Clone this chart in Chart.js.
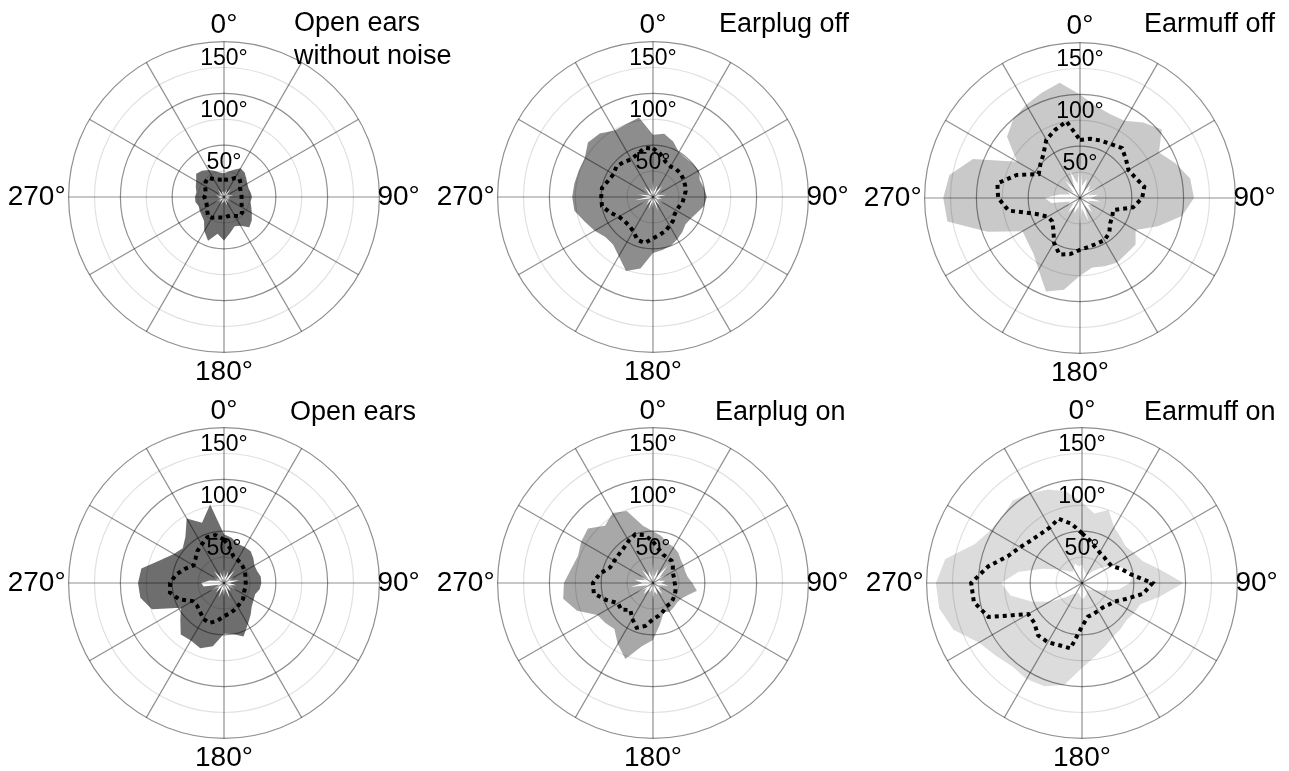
<!DOCTYPE html>
<html>
<head>
<meta charset="utf-8">
<script src="https://cdn.jsdelivr.net/npm/chart.js@4.4.1/dist/chart.umd.min.js"></script>
<style>
  html, body { margin: 0; padding: 0; background: #fff; }
  body { width: 1289px; height: 771px; overflow: hidden; position: relative;
         font-family: "Liberation Sans", Arial, sans-serif; }
  canvas { position: absolute; }
  .title { position: absolute; font-size: 27px; line-height: 32.6px; color: #000; white-space: nowrap; }
</style>
</head>
<body>
<canvas id="p1" width="520" height="384" style="left:-36px;top:7px"></canvas>
<canvas id="p2" width="520" height="384" style="left:393px;top:7px"></canvas>
<canvas id="p3" width="520" height="384" style="left:820px;top:8px"></canvas>
<canvas id="p4" width="520" height="384" style="left:-36px;top:393px"></canvas>
<canvas id="p5" width="520" height="384" style="left:393px;top:393px"></canvas>
<canvas id="p6" width="520" height="384" style="left:822px;top:393px"></canvas>

<div class="title" style="left:294px;top:6px">Open ears<br>without noise</div>
<div class="title" style="left:719px;top:7px">Earplug off</div>
<div class="title" style="left:1144px;top:7px">Earmuff off</div>
<div class="title" style="left:290px;top:395px">Open ears</div>
<div class="title" style="left:715px;top:395px">Earplug on</div>
<div class="title" style="left:1144px;top:395px">Earmuff on</div>

<script>
// Direction of sound source (degrees, clockwise from front)
const angles = [0, 10, 20, 30, 40, 50, 60, 70, 80, 90, 100, 110,
                120, 130, 140, 150, 160, 170, 180, 190, 200, 210, 220, 230,
                240, 250, 260, 270, 280, 290, 300, 310, 320, 330, 340, 350];
const cardinalLabels = [0, 90, 180, 270];
const ringLabels = [50, 100, 150];

// Open ears without noise
const maxOpenQuiet  = [23, 25, 28, 32, 31, 28, 26, 25, 26, 27, 26, 28, 31, 35, 38, 32, 30, 35,
                       42, 36, 45, 38, 30, 28, 27, 26, 28, 28, 27, 29, 31, 35, 33, 30, 27, 24];
const minOpenQuiet  = [6, 3, 8, 4, 10, 3, 7, 4, 9, 3, 6, 4, 8, 3, 7, 4, 9, 3,
                       6, 4, 8, 3, 7, 4, 10, 3, 6, 4, 8, 3, 7, 4, 9, 3, 6, 4];
const meanOpenQuiet = [17, 17, 18, 21, 23, 21, 18, 17, 17, 17, 17, 18, 20, 23, 24, 21, 19, 19,
                       20, 20, 21, 23, 24, 21, 19, 18, 18, 19, 18, 19, 21, 23, 24, 20, 18, 17];

// Earplug off
const maxPlugOff  = [60, 62, 57, 50, 49, 50, 51, 48, 50, 52, 50, 45, 42, 41, 44, 47, 50, 52,
                     54, 70, 76, 66, 60, 60, 65, 70, 77, 78, 77, 76, 76, 82, 80, 74, 75, 78];
const minPlugOff  = [16, 5, 12, 6, 14, 4, 10, 5, 13, 4, 9, 5, 12, 4, 10, 5, 14, 4,
                     11, 5, 13, 4, 10, 5, 15, 4, 18, 5, 14, 4, 11, 5, 13, 4, 10, 5];
const meanPlugOff = [47, 42, 36, 34, 35, 35, 34, 33, 32, 30, 29, 27, 26, 27, 30, 32, 35, 37,
                     40, 45, 44, 38, 36, 36, 38, 44, 50, 50, 50, 46, 44, 46, 44, 42, 44, 48];

// Earmuff off
const maxMuffOff  = [100, 90, 86, 86, 95, 103, 88, 98, 108, 110, 100, 80, 62, 70, 70, 72, 70, 68,
                     75, 90, 96, 80, 70, 66, 64, 95, 130, 132, 128, 110, 70, 92, 100, 104, 108, 113];
const minMuffOff  = [34, 12, 20, 8, 16, 10, 22, 8, 18, 10, 20, 8, 14, 10, 18, 8, 24, 10,
                     28, 8, 16, 10, 18, 8, 14, 10, 28, 34, 20, 10, 16, 8, 22, 10, 28, 14];
const meanMuffOff = [56, 58, 59, 60, 63, 58, 54, 57, 63, 60, 52, 34, 36, 38, 44, 47, 47, 48,
                     50, 55, 58, 50, 40, 35, 36, 45, 70, 79, 81, 65, 46, 50, 55, 65, 70, 75];

// Open ears (with noise)
const maxOpen  = [47, 44, 40, 40, 40, 37, 34, 34, 36, 36, 35, 32, 33, 35, 40, 46, 55, 50,
                  49, 62, 67, 64, 65, 55, 48, 74, 82, 83, 81, 65, 56, 52, 58, 72, 62, 77];
const minOpen  = [14, 5, 12, 6, 16, 5, 11, 6, 15, 5, 12, 6, 14, 5, 10, 6, 16, 5,
                  13, 6, 15, 5, 12, 6, 16, 5, 20, 22, 14, 6, 12, 5, 15, 6, 11, 5];
const meanOpen = [42, 34, 27, 26, 25, 24, 23, 22, 21, 21, 21, 21, 22, 24, 25, 26, 28, 30,
                  32, 37, 41, 40, 36, 34, 35, 46, 53, 52, 47, 40, 34, 36, 40, 43, 47, 47];

// Earplug on
const maxPlugOn  = [50, 46, 41, 40, 38, 35, 34, 33, 34, 38, 43, 35, 31, 30, 31, 32, 30, 40,
                    55, 62, 78, 68, 58, 60, 62, 78, 88, 86, 80, 77, 80, 82, 72, 78, 74, 56];
const minPlugOn  = [20, 6, 14, 7, 22, 8, 16, 6, 12, 8, 15, 6, 10, 7, 14, 6, 12, 8,
                    16, 6, 10, 7, 14, 8, 18, 6, 22, 10, 18, 8, 14, 6, 16, 8, 12, 6];
const meanPlugOn = [40, 33, 29, 28, 28, 25, 22, 21, 21, 21, 22, 23, 24, 25, 26, 26, 29, 32,
                    35, 42, 46, 40, 34, 40, 39, 48, 58, 58, 52, 44, 43, 43, 44, 47, 50, 47];

// Earmuff on
const maxMuffOn  = [78, 68, 75, 62, 58, 55, 58, 62, 76, 98, 76, 60, 58, 56, 58, 60, 65, 72,
                    82, 100, 106, 107, 105, 109, 115, 132, 140, 141, 134, 110, 102, 100, 104, 100, 96, 90];
const minMuffOn  = [18, 12, 10, 8, 14, 22, 34, 42, 50, 46, 36, 22, 14, 10, 8, 10, 12, 14,
                    16, 12, 10, 12, 14, 22, 36, 52, 70, 78, 62, 40, 26, 18, 14, 16, 20, 16];
const meanMuffOn = [48, 42, 37, 34, 33, 32, 33, 40, 48, 68, 60, 45, 36, 33, 31, 31, 32, 33,
                    42, 64, 64, 66, 66, 60, 60, 96, 106, 107, 92, 76, 69, 64, 62, 62, 66, 58];

const panels = [
  { id: 'p1', max: maxOpenQuiet, min: minOpenQuiet, mean: meanOpenQuiet, fill: '#6e6e6e' },
  { id: 'p2', max: maxPlugOff,   min: minPlugOff,   mean: meanPlugOff,   fill: '#8d8d8d' },
  { id: 'p3', max: maxMuffOff,   min: minMuffOff,   mean: meanMuffOff,   fill: '#c9c9c9' },
  { id: 'p4', max: maxOpen,      min: minOpen,      mean: meanOpen,      fill: '#6e6e6e' },
  { id: 'p5', max: maxPlugOn,    min: minPlugOn,    mean: meanPlugOn,    fill: '#a8a8a8' },
  { id: 'p6', max: maxMuffOn,    min: minMuffOn,    mean: meanMuffOn,    fill: '#dcdcdc' }
];

const FONT = '"Liberation Sans", Arial, sans-serif';
Chart.defaults.font.family = FONT;

// Radius labels sit just inside their ring, on the 0° spoke, above everything else
const ringLabelPlugin = {
  id: 'ringLabels',
  afterDraw(chart) {
    const s = chart.scales.r;
    const ctx = chart.ctx;
    ctx.save();
    ctx.font = '23px ' + FONT;
    ctx.fillStyle = '#000';
    ctx.textAlign = 'center';
    ctx.textBaseline = 'middle';
    ringLabels.forEach(v => {
      const d = s.getDistanceFromCenterForValue(v);
      ctx.fillText(v + '°', s.xCenter, s.yCenter - d + 17);
    });
    ctx.restore();
  }
};

const labelPadding = { 0: 0, 9: -2, 18: 3, 27: 3 };

panels.forEach(p => {
  new Chart(document.getElementById(p.id), {
    type: 'radar',
    data: {
      labels: angles,
      datasets: [
        { data: p.max, backgroundColor: p.fill, borderColor: 'transparent', borderWidth: 0,
          pointRadius: 0, fill: '+1', order: 2 },
        { data: p.min, backgroundColor: 'transparent', borderColor: 'transparent', borderWidth: 0,
          pointRadius: 0, fill: false, order: 1 },
        { data: p.mean, borderColor: '#000', borderWidth: 4, borderDash: [4, 4],
          borderCapStyle: 'butt', pointRadius: 0, fill: false, order: 0 }
      ]
    },
    options: {
      responsive: false,
      animation: false,
      devicePixelRatio: 1,
      events: [],
      plugins: { legend: { display: false }, tooltip: { enabled: false } },
      scales: {
        r: {
          min: 0,
          max: 150,
          ticks: { display: false, stepSize: 25 },
          grid: {
            circular: true,
            z: 1,
            lineWidth: 1.2,
            color: c => (c.tick && c.tick.value % 50 === 0) ? 'rgba(0,0,0,0.44)' : 'rgba(0,0,0,0.12)'
          },
          angleLines: {
            color: 'rgba(0,0,0,0.44)',
            lineWidth: c => (c.index % 3 === 0 ? 1.2 : 0)
          },
          pointLabels: {
            color: '#000',
            font: { size: 28, family: FONT },
            padding: c => labelPadding[c.index] ?? 0,
            callback: v => cardinalLabels.includes(v) ? v + '°' : ''
          }
        }
      }
    },
    plugins: [ringLabelPlugin]
  });
});
</script>
</body>
</html>
